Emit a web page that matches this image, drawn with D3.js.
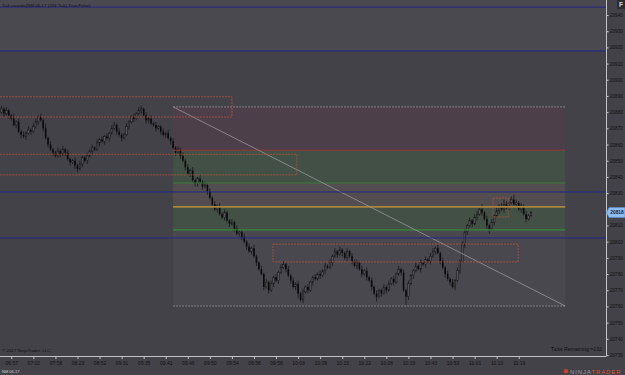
<!DOCTYPE html>
<html>
<head>
<meta charset="utf-8">
<script src="https://cdn.jsdelivr.net/npm/d3@7"></script>
<style>
	html, body { margin: 0; padding: 0; background: #434248; }
	svg { display: block; font-family: "Liberation Sans", Arial, sans-serif; }
</style>
</head>
<body>
<svg id="chart" width="625" height="375"></svg>
<script>
// 233 tick bars, NQ 06-17 (prices)
const firstOpen = 20880;
const closes = [
	20882, 20879, 20881, 20878, 20876, 20872, 20874, 20868, 20866, 20865,
	20867, 20869, 20868, 20871, 20874, 20877, 20875, 20870, 20864, 20860,
	20857, 20855, 20853, 20856, 20854, 20857, 20855, 20851, 20849, 20850,
	20847, 20845, 20848, 20852, 20850, 20853, 20856, 20858, 20857, 20861,
	20863, 20862, 20865, 20864, 20867, 20870, 20872, 20868, 20866, 20864,
	20866, 20871, 20874, 20877, 20876, 20879, 20881, 20882, 20878, 20875,
	20876, 20873, 20872, 20870, 20871, 20868, 20866, 20867, 20864, 20862,
	20858, 20855, 20857, 20853, 20850, 20846, 20842, 20844, 20838, 20836,
	20839, 20837, 20834, 20835, 20831, 20827, 20823, 20820, 20822, 20817,
	20815, 20818, 20813, 20811, 20812, 20808, 20805, 20806, 20803, 20800,
	20797, 20794, 20796, 20791, 20787, 20783, 20780, 20772, 20775, 20770,
	20774, 20778, 20776, 20781, 20784, 20786, 20783, 20779, 20776, 20772,
	20774, 20768, 20764, 20769, 20772, 20770, 20775, 20778, 20777, 20780,
	20779, 20782, 20785, 20784, 20787, 20791, 20794, 20792, 20795, 20793,
	20790, 20794, 20791, 20788, 20785, 20787, 20783, 20780, 20782, 20778,
	20776, 20772, 20768, 20766, 20770, 20768, 20772, 20770, 20774, 20777,
	20775, 20780, 20783, 20781, 20770, 20766, 20774, 20779, 20782, 20785,
	20783, 20787, 20786, 20789, 20788, 20791, 20794, 20796, 20793, 20788,
	20784, 20780, 20777, 20775, 20772, 20776, 20782, 20788, 20798, 20806,
	20810, 20813, 20811, 20815, 20817, 20820, 20818, 20814, 20810, 20808,
	20812, 20816, 20819, 20822, 20820, 20823, 20821, 20824, 20826, 20823,
	20824, 20820, 20822, 20817, 20814, 20816, 20818
];
// wick lengths in points above the body top / below the body bottom
const upWicks = [
	2, 1, 2, 1, 1, 3, 1, 2, 1, 2,
	1, 2, 1, 2, 2, 1, 2, 1, 3, 1,
	2, 1, 1, 2, 1, 2, 1, 2, 1, 1,
	2, 1, 2, 1, 1, 2, 1, 2, 1, 2,
	1, 2, 1, 2, 1, 2, 2, 1, 2, 1,
	1, 2, 1, 1, 2, 1, 2, 2, 1, 2,
	1, 2, 1, 2, 1, 1, 2, 1, 2, 1,
	2, 1, 2, 1, 2, 1, 2, 1, 2, 1,
	1, 2, 1, 2, 1, 2, 1, 2, 1, 2,
	1, 2, 1, 1, 2, 1, 2, 1, 1, 2,
	1, 2, 1, 2, 1, 1, 2, 1, 2, 1,
	2, 1, 2, 1, 2, 2, 1, 2, 1, 2,
	1, 2, 1, 2, 1, 2, 1, 1, 2, 1,
	2, 1, 2, 1, 2, 1, 2, 1, 2, 1,
	1, 2, 1, 2, 1, 2, 1, 2, 1, 2,
	1, 2, 1, 2, 1, 1, 2, 1, 2, 1,
	2, 1, 2, 1, 2, 1, 2, 1, 1, 2,
	1, 2, 1, 2, 1, 2, 2, 1, 2, 1,
	2, 1, 2, 1, 2, 1, 2, 1, 2, 2,
	1, 2, 1, 2, 2, 1, 3, 1, 2, 1,
	2, 1, 2, 1, 2, 3, 2, 1, 2, 3,
	2, 1, 2, 1, 2, 1, 1
];
const downWicks = [
	1, 2, 1, 2, 1, 1, 2, 1, 2, 1,
	2, 1, 2, 1, 1, 2, 1, 2, 1, 2,
	1, 2, 1, 1, 2, 1, 2, 1, 2, 1,
	2, 2, 1, 2, 1, 2, 1, 2, 1, 1,
	2, 1, 2, 1, 2, 1, 1, 2, 1, 2,
	1, 1, 2, 1, 2, 1, 1, 2, 1, 2,
	2, 1, 1, 2, 1, 2, 1, 2, 1, 2,
	1, 2, 1, 2, 1, 2, 1, 2, 1, 2,
	2, 1, 2, 1, 2, 1, 2, 1, 2, 1,
	1, 2, 1, 2, 1, 2, 1, 2, 2, 1,
	2, 1, 2, 1, 2, 1, 1, 2, 1, 2,
	1, 2, 1, 2, 1, 1, 2, 1, 2, 1,
	2, 3, 1, 2, 1, 2, 1, 2, 1, 1,
	2, 1, 2, 1, 1, 2, 1, 2, 1, 2,
	1, 2, 1, 2, 1, 2, 1, 2, 1, 2,
	1, 2, 1, 3, 1, 2, 1, 2, 1, 1,
	2, 1, 1, 2, 1, 5, 2, 1, 2, 1,
	1, 2, 1, 2, 1, 2, 1, 2, 1, 2,
	1, 2, 1, 2, 1, 2, 1, 2, 1, 2,
	2, 1, 2, 1, 2, 1, 2, 1, 2, 3,
	1, 2, 1, 2, 1, 2, 1, 2, 1, 1,
	2, 1, 2, 1, 2, 1, 1
];
const timeLabels = [
	"06:57", "07:02", "07:58", "08:23", "08:52", "09:31", "09:35", "09:41",
	"09:46", "09:50", "09:54", "09:56", "09:58", "10:03", "10:09", "10:15",
	"10:22", "10:26", "10:33", "10:43", "10:53", "11:01", "11:10", "11:19"
];
const priceTicks = [
	20730, 20740, 20750, 20760, 20770, 20780, 20790, 20800, 20810, 20820, 20830,
	20840, 20850, 20860, 20870, 20880, 20890, 20900, 20910, 20920, 20930, 20940
];
const lastPrice = 20818;
const ticksRemaining = 132;

// drawings (bar index / price)
const blueLevels = [20944.9, 20917.8, 20830.7, 20802.3];
const toolBars = [70, 230];
const toolLevels = [20883.25, 20856.5, 20836.25, 20821.5, 20807.25, 20760.25];
const toolFills = ["#4d3f4a", "#435045", "#524d4e", "#435045", "#49484e"];
const toolStrokes = ["#8a8890", "#9c3838", "#3c7f3e", "#a8843e", "#34a036", "#8a8890"];
const boxes = [
	[-3, 94, 20889.5, 20877],
	[-3, 120.5, 20854, 20841.25],
	[110.75, 210.75, 20798.5, 20787.5],
	[200.5, 206.75, 20827, 20815.25]
];

const plotRight = 606;
const axisY = 356;

const svg = d3.select("#chart");

const x = d3.scaleLinear()
	.domain([0, closes.length - 1])
	.range([1.5, 531]);

const y = d3.scaleLinear()
	.domain([20730, 20940])
	.range([355, 15]);

const candles = closes.map((c, i) => {
	const o = i === 0 ? firstOpen : closes[i - 1];
	return {
		i: i,
		o: o,
		c: c,
		h: Math.max(o, c) + upWicks[i],
		l: Math.min(o, c) - downWicks[i]
	};
});

// background
svg.append("rect")
	.attr("width", 625)
	.attr("height", 375)
	.attr("fill", "#434248");

svg.append("defs").append("clipPath")
	.attr("id", "plot-clip")
	.append("rect")
	.attr("width", plotRight)
	.attr("height", axisY);

const plot = svg.append("g").attr("clip-path", "url(#plot-clip)");

// indicator header band
plot.append("rect")
	.attr("x", 0)
	.attr("y", 0)
	.attr("width", plotRight)
	.attr("height", y(blueLevels[1]))
	.attr("fill", "#4a4950");

// risk / reward tool fills
const bands = d3.pairs(toolLevels);
plot.selectAll(".tool-band")
	.data(bands)
	.join("rect")
	.attr("class", "tool-band")
	.attr("x", x(toolBars[0]))
	.attr("width", x(toolBars[1]) - x(toolBars[0]))
	.attr("y", d => y(d[0]))
	.attr("height", d => y(d[1]) - y(d[0]))
	.attr("fill", (d, i) => toolFills[i]);

// candles
const candle = plot.selectAll(".candle")
	.data(candles)
	.join("g")
	.attr("class", "candle");

candle.append("line")
	.attr("x1", d => x(d.i))
	.attr("x2", d => x(d.i))
	.attr("y1", d => y(d.h))
	.attr("y2", d => y(d.l))
	.attr("stroke", "#111113")
	.attr("stroke-width", 0.7);

candle.append("rect")
	.attr("x", d => x(d.i) - 0.8)
	.attr("width", 1.6)
	.attr("y", d => y(Math.max(d.o, d.c)))
	.attr("height", d => Math.max(0.7, Math.abs(y(d.o) - y(d.c))))
	.attr("fill", d => d.c < d.o ? "#0b0b0d" : "#56555c")
	.attr("stroke", "#141416")
	.attr("stroke-width", d => d.c < d.o ? 0 : 0.5);

// tool lines
plot.selectAll(".tool-line")
	.data(toolLevels)
	.join("line")
	.attr("class", "tool-line")
	.attr("x1", x(toolBars[0]))
	.attr("x2", x(toolBars[1]))
	.attr("y1", d => y(d))
	.attr("y2", d => y(d))
	.attr("stroke", (d, i) => toolStrokes[i])
	.attr("stroke-width", (d, i) => i === 3 ? 1.6 : 0.9)
	.attr("stroke-dasharray", (d, i) => i === 0 || i === toolLevels.length - 1 ? "2,1" : null);

plot.append("line")
	.attr("x1", x(toolBars[0]))
	.attr("y1", y(toolLevels[0]))
	.attr("x2", x(toolBars[1]))
	.attr("y2", y(toolLevels[toolLevels.length - 1]))
	.attr("stroke", "#a3a1a8")
	.attr("stroke-width", 0.7);

// horizontal lines
plot.selectAll(".blue-line")
	.data(blueLevels)
	.join("line")
	.attr("class", "blue-line")
	.attr("x1", 0)
	.attr("x2", plotRight)
	.attr("y1", d => y(d))
	.attr("y2", d => y(d))
	.attr("stroke", "#25258c")
	.attr("stroke-width", 1);

// rectangles
plot.selectAll(".box")
	.data(boxes)
	.join("rect")
	.attr("class", "box")
	.attr("x", d => x(d[0]))
	.attr("width", d => x(d[1]) - x(d[0]))
	.attr("y", d => y(d[2]))
	.attr("height", d => y(d[3]) - y(d[2]))
	.attr("fill", "none")
	.attr("stroke", "#c2553c")
	.attr("stroke-width", 0.7)
	.attr("stroke-dasharray", "2,1");

// axis frame
svg.append("line")
	.attr("x1", plotRight + 0.5).attr("x2", plotRight + 0.5)
	.attr("y1", 0).attr("y2", axisY)
	.attr("stroke", "#c4c4c4");

svg.append("line")
	.attr("x1", 0).attr("x2", plotRight + 0.5)
	.attr("y1", axisY + 0.5).attr("y2", axisY + 0.5)
	.attr("stroke", "#c4c4c4");

// y axis
svg.append("g")
	.attr("transform", "translate(" + (plotRight + 0.5) + ",0)")
	.call(d3.axisRight(y)
		.tickValues(priceTicks.filter(p => Math.abs(p - lastPrice) > 4))
		.tickSize(2)
		.tickPadding(1.5)
		.tickFormat(d3.format("d")))
	.call(g => g.select(".domain").remove())
	.call(g => g.selectAll("line").attr("stroke", "#c4c4c4"))
	.call(g => g.selectAll("text").attr("fill", "#111"))
	.attr("font-size", 4.6)
	.attr("font-family", "'Liberation Sans', Arial, sans-serif");

// x axis
svg.append("g")
	.attr("transform", "translate(0," + (axisY + 0.5) + ")")
	.call(d3.axisBottom(x)
		.tickValues(timeLabels.map((t, i) => 4 + 9 * i))
		.tickSize(2.5)
		.tickPadding(2)
		.tickFormat((d, i) => timeLabels[i]))
	.call(g => g.select(".domain").remove())
	.call(g => g.selectAll("line").attr("stroke", "#c4c4c4"))
	.call(g => g.selectAll("text").attr("fill", "#111"))
	.attr("font-size", 5)
	.attr("font-family", "'Liberation Sans', Arial, sans-serif");

// last price marker
const marker = svg.append("g")
	.attr("transform", "translate(" + (plotRight + 0.5) + "," + y(lastPrice) + ")");

marker.append("path")
	.attr("d", "M0,0L2.5,-5H18.5V5H2.5Z")
	.attr("fill", "#8cbcf0")
	.attr("stroke", "#5b8fd0")
	.attr("stroke-width", 0.6);

marker.append("text")
	.attr("x", 10.5)
	.attr("dy", "0.35em")
	.attr("text-anchor", "middle")
	.attr("font-size", 4.8)
	.attr("font-weight", "bold")
	.attr("fill", "#10223d")
	.text(lastPrice);

// "F" button
svg.append("rect")
	.attr("x", 617).attr("y", 0)
	.attr("width", 8).attr("height", 9)
	.attr("fill", "#2c2c31");

svg.append("text")
	.attr("x", 621).attr("y", 6.8)
	.attr("text-anchor", "middle")
	.attr("font-size", 6.5)
	.attr("font-weight", "bold")
	.attr("fill", "#d8d8d8")
	.text("F");

// texts
svg.append("text")
	.attr("x", 2).attr("y", 6.5)
	.attr("font-size", 4.4)
	.attr("fill", "#111")
	.text("Tick counter(NM 06-17 (233 Tick),True,False)");

svg.append("text")
	.attr("x", 2).attr("y", 351.5)
	.attr("font-size", 4.4)
	.attr("fill", "#111")
	.text("© 2017 NinjaTrader, LLC");

svg.append("text")
	.attr("x", 602).attr("y", 351)
	.attr("text-anchor", "end")
	.attr("font-size", 5.2)
	.attr("fill", "#111")
	.text("Ticks Remaining =" + ticksRemaining);

svg.append("text")
	.attr("x", 2).attr("y", 373)
	.attr("font-size", 4)
	.attr("fill", "#d0d0d0")
	.text("NM 06-17");

// logo
svg.append("circle")
	.attr("cx", 566).attr("cy", 371.3)
	.attr("r", 2.3)
	.attr("fill", "#c8402c");

const logo = svg.append("text")
	.attr("x", 570).attr("y", 373.6)
	.attr("font-size", 6)
	.attr("letter-spacing", 0.9);

logo.append("tspan").attr("fill", "#9c9ca0").text("NINJA");
logo.append("tspan").attr("fill", "#d9542b").text("TRADER");
</script>
</body>
</html>
